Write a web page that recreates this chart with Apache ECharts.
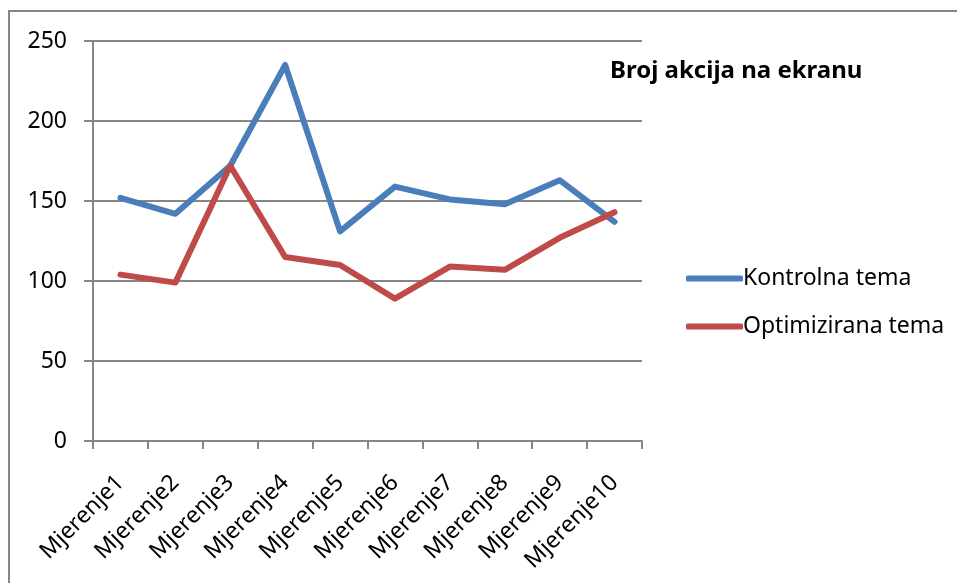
<!DOCTYPE html>
<html>
<head>
<meta charset="utf-8">
<script src="https://cdn.jsdelivr.net/npm/echarts@6/dist/echarts.min.js"></script>
<style>
  html, body { margin: 0; padding: 0; background: #fff; }
  #chart { width: 957px; height: 583px; }
</style>
</head>
<body>
<div id="chart"></div>
<script>
const categories = ['Mjerenje1', 'Mjerenje2', 'Mjerenje3', 'Mjerenje4', 'Mjerenje5',
  'Mjerenje6', 'Mjerenje7', 'Mjerenje8', 'Mjerenje9', 'Mjerenje10'];
const kontrolna = [152, 142, 172, 235, 131, 159, 151, 148, 163, 137];
const optimizirana = [104, 99, 172, 115, 110, 89, 109, 107, 127, 143];

const font = 'Noto Sans';
const axisGray = '#868686';

const chart = echarts.init(document.getElementById('chart'));

chart.setOption({
  animation: false,
  backgroundColor: '#fff',
  title: {
    text: 'Broj akcija na ekranu',
    left: 605,
    top: 54,
    textStyle: { fontFamily: font, fontSize: 24, fontWeight: 'bold', color: '#000' }
  },
  legend: {
    orient: 'vertical',
    left: 681,
    top: 262,
    icon: 'roundRect',
    itemWidth: 57,
    itemHeight: 6,
    itemGap: 25,
    textStyle: { fontFamily: font, fontSize: 23, lineHeight: 22, color: '#000', padding: [0, 0, 0, -5] },
    data: ['Kontrolna tema', 'Optimizirana tema']
  },
  grid: { left: 93, right: 315, top: 41, bottom: 142 },
  xAxis: {
    type: 'category',
    data: categories,
    boundaryGap: true,
    axisLine: { lineStyle: { color: axisGray, width: 2 } },
    axisTick: { show: true, length: 8, lineStyle: { color: axisGray, width: 2 } },
    axisLabel: {
      rotate: 45,
      interval: 0,
      margin: 38,
      fontFamily: font,
      fontSize: 23,
      color: '#000'
    }
  },
  yAxis: {
    type: 'value',
    min: 0,
    max: 250,
    interval: 50,
    axisLine: { show: true, lineStyle: { color: axisGray, width: 2 } },
    axisTick: { show: true, length: 9, lineStyle: { color: axisGray, width: 2 } },
    splitLine: { lineStyle: { color: axisGray, width: 2 } },
    axisLabel: { margin: 26, fontFamily: font, fontSize: 23, color: '#000' }
  },
  series: [
    {
      name: 'Kontrolna tema',
      type: 'line',
      data: kontrolna,
      symbol: 'none',
      color: '#4a7ebb',
      lineStyle: { width: 6, cap: 'round', join: 'round' }
    },
    {
      name: 'Optimizirana tema',
      type: 'line',
      data: optimizirana,
      symbol: 'none',
      color: '#be4b48',
      lineStyle: { width: 6, cap: 'round', join: 'round' }
    }
  ],
  graphic: [
    {
      type: 'rect',
      silent: true,
      shape: { x: 9, y: 11, width: 1000, height: 1000 },
      style: { fill: 'none', stroke: axisGray, lineWidth: 2 }
    }
  ]
});
</script>
</body>
</html>
